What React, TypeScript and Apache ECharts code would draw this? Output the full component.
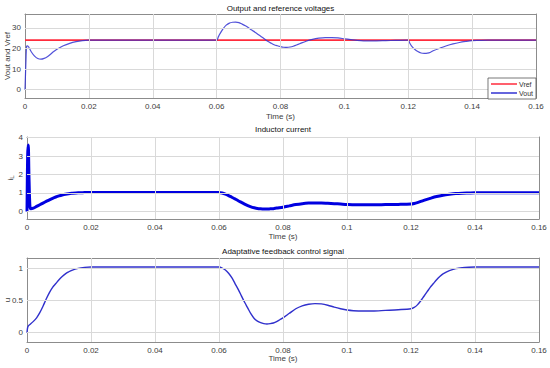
import React, { useEffect, useRef } from "react";
import * as echarts from "echarts";

// ---- data ----
const xTicks = [0.02, 0.04, 0.06, 0.08, 0.1, 0.12, 0.14];

const vrefT = [0, 0.16];
const vrefV = [24, 24];

const voutT = [
  0, 0.0003, 0.0005, 0.0008, 0.0012, 0.002, 0.003, 0.004, 0.005, 0.006, 0.007, 0.008, 0.009, 0.01, 0.012,
  0.014, 0.016, 0.018, 0.02, 0.025, 0.06, 0.0605, 0.061, 0.062, 0.063, 0.064, 0.065, 0.066, 0.067, 0.068,
  0.069, 0.07, 0.071, 0.072, 0.073, 0.074, 0.075, 0.076, 0.077, 0.078, 0.079, 0.08, 0.081, 0.082, 0.083,
  0.084, 0.085, 0.086, 0.088, 0.09, 0.092, 0.094, 0.096, 0.098, 0.1, 0.102, 0.104, 0.106, 0.108, 0.11,
  0.113, 0.116, 0.12, 0.1205, 0.121, 0.122, 0.123, 0.124, 0.125, 0.126, 0.127, 0.128, 0.13, 0.132, 0.134,
  0.136, 0.138, 0.14, 0.142, 0.145, 0.16,
];
const voutV = [
  0, 14, 21.0, 21.3, 20.6, 18.3, 16.3, 15.1, 14.8, 15.2, 16.0, 17.2, 18.5, 19.6, 21.3,
  22.5, 23.3, 23.8, 24.0, 24.05, 24.0, 25.5, 27.0, 29.5, 31.3, 32.3, 32.7, 32.8, 32.5, 31.8,
  31.0, 30.0, 28.9, 27.9, 26.8, 25.7, 24.6, 23.5, 22.6, 21.8, 21.3, 20.9, 20.6, 20.5, 20.7,
  21.1, 21.7, 22.3, 23.5, 24.4, 25.0, 25.3, 25.3, 25.1, 24.7, 24.3, 23.9, 23.7, 23.7, 23.7,
  23.8, 23.9, 24.0, 22.5, 21.2, 19.6, 18.5, 17.8, 17.6, 17.7, 18.2, 19.0, 20.2, 21.3, 22.2,
  22.9, 23.4, 23.8, 23.9, 24.0, 24.0,
];

const iLT = [
  0, 0.0002, 0.0004, 0.0006, 0.0009, 0.0012, 0.002, 0.003, 0.004, 0.005, 0.006, 0.007, 0.008, 0.009, 0.01,
  0.011, 0.012, 0.013, 0.014, 0.016, 0.018, 0.02, 0.06, 0.061, 0.062, 0.063, 0.064, 0.065, 0.066, 0.067,
  0.068, 0.069, 0.07, 0.071, 0.072, 0.073, 0.074, 0.075, 0.076, 0.077, 0.078, 0.08, 0.082, 0.084, 0.086,
  0.088, 0.09, 0.092, 0.094, 0.096, 0.098, 0.1, 0.104, 0.108, 0.112, 0.116, 0.12, 0.121, 0.122, 0.124,
  0.126, 0.128, 0.13, 0.132, 0.134, 0.136, 0.138, 0.14, 0.16,
];
const iLV = [
  0, 3.0, 3.6, 2.0, 0.3, 0.15, 0.18, 0.27, 0.36, 0.45, 0.54, 0.63, 0.71, 0.78, 0.84,
  0.89, 0.93, 0.96, 0.98, 1.01, 1.02, 1.03, 1.03, 1.0, 0.94, 0.86, 0.77, 0.68, 0.58, 0.49,
  0.4, 0.32, 0.25, 0.2, 0.16, 0.14, 0.13, 0.13, 0.14, 0.15, 0.18, 0.23, 0.3, 0.37, 0.42,
  0.45, 0.46, 0.46, 0.44, 0.42, 0.4, 0.38, 0.36, 0.36, 0.37, 0.38, 0.4, 0.43, 0.48, 0.6,
  0.71, 0.81, 0.88, 0.93, 0.97, 0.99, 1.0, 1.01, 1.01,
];

const uT = [
  0, 0.0002, 0.0005, 0.001, 0.002, 0.003, 0.004, 0.005, 0.006, 0.007, 0.008, 0.009, 0.01, 0.011, 0.012,
  0.013, 0.014, 0.016, 0.018, 0.02, 0.06, 0.061, 0.062, 0.063, 0.064, 0.065, 0.066, 0.067, 0.068, 0.069,
  0.07, 0.071, 0.072, 0.073, 0.074, 0.075, 0.076, 0.077, 0.078, 0.079, 0.08, 0.082, 0.084, 0.086, 0.088,
  0.09, 0.092, 0.094, 0.096, 0.098, 0.1, 0.102, 0.105, 0.108, 0.112, 0.116, 0.12, 0.121, 0.122, 0.123,
  0.124, 0.125, 0.126, 0.127, 0.128, 0.129, 0.13, 0.132, 0.134, 0.136, 0.138, 0.14, 0.16,
];
const uV = [
  0, 0.08, 0.11, 0.13, 0.175, 0.23, 0.31, 0.41, 0.52, 0.62, 0.7, 0.76, 0.82, 0.87, 0.91,
  0.94, 0.965, 0.995, 1.01, 1.015, 1.015, 1.0, 0.97, 0.92, 0.85, 0.76, 0.67, 0.57, 0.47, 0.38,
  0.29, 0.22, 0.18, 0.155, 0.14, 0.135, 0.14, 0.15, 0.17, 0.2, 0.23, 0.3, 0.37, 0.415, 0.44,
  0.45, 0.445, 0.425, 0.395, 0.37, 0.35, 0.34, 0.335, 0.335, 0.345, 0.355, 0.37, 0.39, 0.43, 0.49,
  0.56, 0.63, 0.7, 0.76, 0.82, 0.87, 0.91, 0.96, 0.99, 1.005, 1.012, 1.015, 1.015,
];

const y1Ticks = [0, 10, 20, 30];
const y2Ticks = [0, 1, 2, 3, 4];
const y3Ticks = [0, 0.5, 1];

const zip = (t: number[], v: number[]) => t.map((x, i) => [x, v[i]]);

const FONT = "Liberation Sans, Arial, Helvetica, sans-serif";
const GRID_C = "#d9d9d9";
const BOX_C = "#8c8c8c";
const LABEL_C = "#404040";

const grids = [
  { left: 25, right: 14, top: 14, height: 84 },
  { left: 27, right: 11, top: 137, height: 82 },
  { left: 27, right: 11, top: 258, height: 84 },
];
const yRanges = [
  { min: -4, max: 36.7, ticks: y1Ticks, name: "Vout and Vref", gap: 14 },
  { min: -0.41, max: 4.03, ticks: y2Ticks, name: "{i|i}{l|L}", gap: 12 },
  { min: -0.144, max: 1.155, ticks: y3Ticks, name: "u", gap: 16 },
];
const xNameGaps = [14, 13, 12.5];
const titles = ["Output and reference voltages", "Inductor current", "Adaptative feedback control signal"];
const titleTops = [4, 125.5, 247.5];

export default function App() {
  const ref = useRef<HTMLDivElement>(null);
  useEffect(() => {
    if (!ref.current) return;
    const chart = echarts.init(ref.current, undefined, { renderer: "svg" });

    const xAxes: any[] = [];
    const yAxes: any[] = [];
    const mainX: number[] = [];
    const mainY: number[] = [];
    grids.forEach((_, gi) => {
      const yr = yRanges[gi];
      mainX.push(xAxes.length);
      xAxes.push({
        type: "value",
        gridIndex: gi,
        min: 0,
        max: 0.16,
        interval: 0.02,
        position: "bottom",
        name: "Time (s)",
        nameLocation: "middle",
        nameGap: xNameGaps[gi],
        nameMoveOverlap: false,
        nameTextStyle: { fontFamily: FONT, fontSize: 8, color: LABEL_C },
        axisLine: { show: true, onZero: false, lineStyle: { color: BOX_C, width: 1 } },
        axisTick: { show: true, inside: true, length: 3, lineStyle: { color: BOX_C } },
        axisLabel: { fontFamily: FONT, fontSize: 8, color: LABEL_C, margin: 4 },
        splitLine: { show: false },
      });
      mainY.push(yAxes.length);
      yAxes.push({
        type: "value",
        gridIndex: gi,
        min: yr.min,
        max: yr.max,
        position: "left",
        name: yr.name,
        nameLocation: "middle",
        nameGap: yr.gap,
        nameMoveOverlap: false,
        nameTextStyle: {
          fontFamily: FONT,
          fontSize: 8,
          color: LABEL_C,
          rich: {
            i: { fontFamily: FONT, fontSize: 8, color: LABEL_C },
            l: { fontFamily: FONT, fontSize: 6, color: LABEL_C, padding: [3, 0, 0, 0] },
          },
        },
        axisLine: { show: true, onZero: false, lineStyle: { color: BOX_C, width: 1 } },
        axisTick: { show: true, inside: true, length: 3, lineStyle: { color: BOX_C }, customValues: yr.ticks },
        axisLabel: { fontFamily: FONT, fontSize: 8, color: LABEL_C, margin: 4, customValues: yr.ticks },
        splitLine: { show: false },
      });
      xAxes.push({
        type: "value",
        gridIndex: gi,
        min: 0,
        max: 0.16,
        interval: 0.02,
        position: "top",
        axisLine: { show: true, onZero: false, lineStyle: { color: BOX_C, width: 1 } },
        axisTick: { show: true, inside: true, length: 3, lineStyle: { color: BOX_C } },
        axisLabel: { show: false },
        splitLine: { show: false },
      });
      yAxes.push({
        type: "value",
        gridIndex: gi,
        min: yr.min,
        max: yr.max,
        position: "right",
        axisLine: { show: true, onZero: false, lineStyle: { color: BOX_C, width: 1 } },
        axisTick: { show: true, inside: true, length: 3, lineStyle: { color: BOX_C }, customValues: yr.ticks },
        axisLabel: { show: false, customValues: yr.ticks },
        splitLine: { show: false },
      });
    });

    const gridSeries = grids.map((_, gi) => ({
      type: "line",
      name: "grid" + gi,
      xAxisIndex: mainX[gi],
      yAxisIndex: mainY[gi],
      data: [],
      silent: true,
      z: 1,
      markLine: {
        silent: true,
        symbol: ["none", "none"],
        label: { show: false },
        animation: false,
        lineStyle: { color: GRID_C, width: 1, type: "solid" },
        emphasis: { disabled: true },
        data: [
          ...xTicks.map((x) => ({ xAxis: x })),
          ...yRanges[gi].ticks.map((y) => ({ yAxis: y })),
        ],
      },
    }));

    chart.setOption({
      animation: false,
      backgroundColor: "#ffffff",
      title: titles.map((t, i) => ({
        text: t,
        left: (grids[i].left + 550 - grids[i].right) / 2,
        textAlign: "center",
        top: titleTops[i],
        padding: 0,
        textStyle: { fontFamily: FONT, fontSize: 8, fontWeight: "normal", color: "#111111" },
      })),
      grid: grids.map((g) => ({
        ...g,
        show: false,
        containLabel: false,
        outerBoundsMode: "none",
      })),
      xAxis: xAxes,
      yAxis: yAxes,
      legend: {
        data: ["Vref", "Vout"],
        orient: "vertical",
        right: 14,
        top: 78,
        icon: "rect",
        itemWidth: 26,
        itemHeight: 1.5,
        itemGap: 1,
        padding: [2, 3, 2, 3],
        borderColor: "#555555",
        borderWidth: 0.8,
        borderRadius: 0,
        backgroundColor: "#ffffff",
        textStyle: { fontFamily: FONT, fontSize: 7, color: "#333", lineHeight: 8, padding: [0, 0, 0, -3] },
        z: 10,
      },
      series: [
        ...gridSeries,
        {
          name: "Vref",
          type: "line",
          xAxisIndex: mainX[0],
          yAxisIndex: mainY[0],
          data: zip(vrefT, vrefV),
          showSymbol: false,
          z: 3,
          lineStyle: { color: "#ff2b3c", width: 1.8 },
          itemStyle: { color: "#ff2b3c" },
        },
        {
          name: "Vout",
          type: "line",
          xAxisIndex: mainX[0],
          yAxisIndex: mainY[0],
          data: zip(voutT, voutV),
          showSymbol: false,
          smooth: 0.3,
          z: 4,
          lineStyle: { color: "#3232d2", width: 1.2, opacity: 0.85 },
          itemStyle: { color: "#3232d2" },
        },
        {
          name: "iL",
          type: "line",
          xAxisIndex: mainX[1],
          yAxisIndex: mainY[1],
          data: zip(iLT, iLV),
          showSymbol: false,
          smooth: 0.3,
          z: 3,
          lineStyle: { color: "#0000e0", width: 3 },
        },
        {
          name: "u",
          type: "line",
          xAxisIndex: mainX[2],
          yAxisIndex: mainY[2],
          data: zip(uT, uV),
          showSymbol: false,
          smooth: 0.3,
          z: 3,
          lineStyle: { color: "#3030cc", width: 1.4 },
        },
      ],
    });
    return () => chart.dispose();
  }, []);
  return <div ref={ref} style={{ width: 550, height: 368, position: "absolute", left: 0, top: 0 }} />;
}
